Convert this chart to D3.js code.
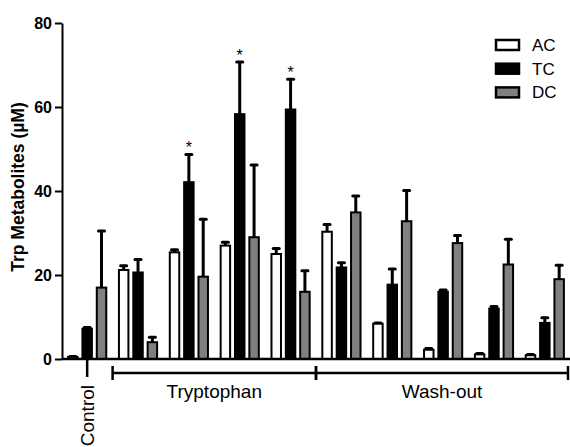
<!DOCTYPE html>
<html>
<head>
<meta charset="utf-8">
<script src="https://cdn.jsdelivr.net/npm/d3@7"></script>
<style>
  body { margin: 0; background: #fff; }
  svg { display: block; font-family: "Liberation Sans", Arial, sans-serif; }
</style>
</head>
<body>
<svg id="chart" width="570" height="447"></svg>
<script>
// groups along the x axis
const groups = ["Control", "Trp 1", "Trp 2", "Trp 3", "Trp 4", "Wash 1", "Wash 2", "Wash 3", "Wash 4", "Wash 5"];
const seriesNames = ["AC", "TC", "DC"];
const seriesColors = ["#ffffff", "#000000", "#808080"];

// means and SEM
const acValues = [0.5, 21.2, 25.4, 27.0, 25.0, 30.3, 8.4, 2.2, 1.1, 0.9];
const acErrors = [0.1, 1.0, 0.6, 0.8, 1.3, 1.7, 0.2, 0.3, 0.2, 0.2];
const tcValues = [7.2, 20.6, 42.1, 58.3, 59.4, 21.8, 17.7, 16.0, 12.0, 8.6];
const tcErrors = [0.3, 3.1, 6.6, 12.4, 7.2, 1.1, 3.7, 0.4, 0.5, 1.2];
const dcValues = [17.0, 4.0, 19.6, 29.0, 16.0, 34.9, 32.8, 27.6, 22.5, 19.0];
const dcErrors = [13.5, 1.2, 13.7, 17.2, 5.0, 3.9, 7.3, 1.8, 6.0, 3.3];
const tcSignificant = ["Trp 2", "Trp 3", "Trp 4"];

// phase brackets under the axis
const phaseLabels = ["Tryptophan", "Wash-out"];
const phaseStart = ["Trp 1", "Wash 1"];
const phaseEnd = ["Trp 4", "Wash 5"];

const yTicks = [0, 20, 40, 60, 80];

const svg = d3.select("#chart");
const mLeft = 62, mRight = 570, mTop = 23, mBottom = 359;

const x = d3.scaleBand()
    .domain(groups)
    .range([mLeft, mRight])
    .paddingInner(0.21)
    .paddingOuter(0.1);

const xs = d3.scaleBand()
    .domain(seriesNames)
    .range([0, x.bandwidth()])
    .paddingInner(0.2)
    .paddingOuter(0);

const y = d3.scaleLinear()
    .domain([0, 80])
    .range([mBottom, mTop]);

const values = [acValues, tcValues, dcValues];
const errors = [acErrors, tcErrors, dcErrors];

const rows = [];
groups.forEach((g, i) => {
    seriesNames.forEach((s, j) => {
        rows.push({ group: g, series: s, color: seriesColors[j], value: values[j][i], err: errors[j][i] });
    });
});

const cx = d => x(d.group) + xs(d.series) + xs.bandwidth() / 2;

// error bars first so bars sit on top of the stem
const eb = svg.append("g");
eb.selectAll("line.stem")
    .data(rows)
    .enter()
    .append("line")
    .attr("class", "stem")
    .attr("x1", cx)
    .attr("x2", cx)
    .attr("y1", d => y(d.value))
    .attr("y2", d => y(d.value + d.err))
    .attr("stroke", "#000")
    .attr("stroke-width", 3);
eb.selectAll("line.cap")
    .data(rows)
    .enter()
    .append("line")
    .attr("class", "cap")
    .attr("x1", d => cx(d) - 3)
    .attr("x2", d => cx(d) + 3)
    .attr("y1", d => y(d.value + d.err))
    .attr("y2", d => y(d.value + d.err))
    .attr("stroke", "#000")
    .attr("stroke-width", 3)
    .attr("stroke-linecap", "round");

svg.append("g")
    .selectAll("rect")
    .data(rows)
    .enter()
    .append("rect")
    .attr("x", d => x(d.group) + xs(d.series) + 1)
    .attr("width", xs.bandwidth() - 2)
    .attr("y", d => y(d.value))
    .attr("height", d => y(0) - y(d.value))
    .attr("fill", d => d.color)
    .attr("stroke", "#000")
    .attr("stroke-width", 2);

// asterisks over significant TC bars
svg.append("g")
    .selectAll("text")
    .data(rows.filter(d => d.series === "TC" && tcSignificant.includes(d.group)))
    .enter()
    .append("text")
    .attr("x", cx)
    .attr("y", d => y(d.value + d.err) - 1)
    .attr("text-anchor", "middle")
    .attr("font-size", 16)
    .text("*");

// y axis
const yAxis = svg.append("g")
    .attr("transform", `translate(${mLeft},0)`)
    .call(d3.axisLeft(y).tickValues(yTicks).tickSize(7).tickSizeOuter(0).tickPadding(3));
yAxis.selectAll("path, line").attr("stroke", "#000").attr("stroke-width", 2);
yAxis.selectAll("text")
    .attr("font-size", 16)
    .attr("font-weight", "bold")
    .attr("font-family", "Liberation Sans, Arial, sans-serif")
    .attr("fill", "#000");

svg.append("text")
    .attr("transform", "translate(24,187) rotate(-90)")
    .attr("text-anchor", "middle")
    .attr("font-size", 17.5)
    .attr("font-weight", "bold")
    .text("Trp Metabolites (\u00b5M)");

// x axis: baseline with a single Control tick
const xAxis = svg.append("g")
    .attr("transform", `translate(0,${mBottom})`)
    .call(d3.axisBottom(x).tickValues(["Control"]).tickSize(18).tickSizeOuter(0).tickPadding(8));
xAxis.select(".domain").attr("d", `M${mLeft},0H${mRight}`);
xAxis.selectAll("path, line").attr("stroke", "#000").attr("stroke-width", 2.5);
xAxis.selectAll("text")
    .attr("font-size", 19)
    .attr("font-family", "Liberation Sans, Arial, sans-serif")
    .attr("fill", "#000")
    .attr("transform", "rotate(-90)")
    .attr("text-anchor", "end")
    .attr("dy", "0.35em")
    .attr("x", -26)
    .attr("y", 0);

// phase brackets
const gap = x.step() * x.paddingInner() / 2;
const br = svg.append("g").attr("transform", `translate(0,${mBottom + 14})`);
phaseLabels.forEach((lab, i) => {
    const x0 = x(phaseStart[i]) - gap;
    const x1 = Math.min(x(phaseEnd[i]) + x.bandwidth() + gap, mRight - 2);
    br.append("line").attr("x1", x0).attr("x2", x1).attr("stroke", "#000").attr("stroke-width", 2.5);
    [x0, x1].forEach(xx => {
        br.append("line").attr("x1", xx).attr("x2", xx).attr("y1", -7).attr("y2", 7)
            .attr("stroke", "#000").attr("stroke-width", 2.5);
    });
    br.append("text")
        .attr("x", (x0 + x1) / 2)
        .attr("y", 25)
        .attr("text-anchor", "middle")
        .attr("font-size", 19)
        .text(lab);
});

// legend
const legend = svg.append("g").attr("transform", "translate(496,40)");
seriesNames.forEach((s, i) => {
    const row = legend.append("g").attr("transform", `translate(0,${i * 23.7})`);
    row.append("rect")
        .attr("width", 23).attr("height", 10)
        .attr("fill", seriesColors[i])
        .attr("stroke", "#000").attr("stroke-width", 2.5);
    row.append("text")
        .attr("x", 36).attr("y", 5)
        .attr("dy", "0.35em")
        .attr("font-size", 17)
        .text(s);
});
</script>
</body>
</html>
